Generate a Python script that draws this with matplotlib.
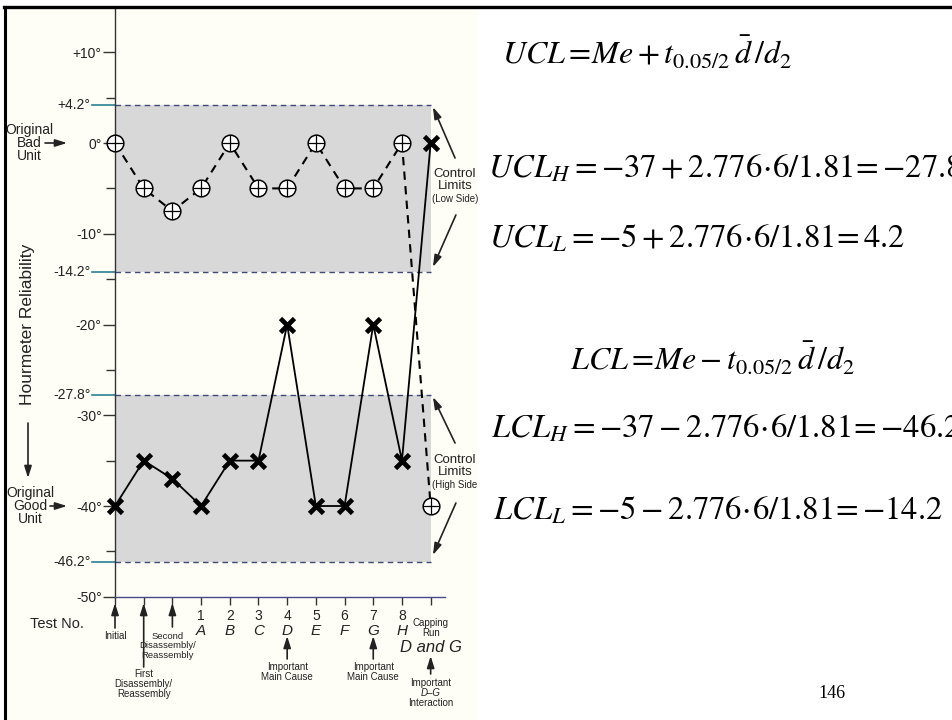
import matplotlib
matplotlib.use('Agg')
import matplotlib.pyplot as plt
from matplotlib import font_manager
from matplotlib.lines import Line2D
from matplotlib.patches import Rectangle
from matplotlib.transforms import blended_transform_factory

# Test sequence along the bottom axis (0 = initial run, 11 = capping run)
positions = list(range(12))
test_numbers = ['', '', '', '1', '2', '3', '4', '5', '6', '7', '8', '']
test_factors = ['', '', '', 'A', 'B', 'C', 'D', 'E', 'F', 'G', 'H', '']

# Hourmeter readings in degrees
low_side = [0, -5, -7.5, -5, 0, -5, -5, 0, -5, -5, 0, -40]       # originally bad unit
high_side = [-40, -35, -37, -40, -35, -35, -20, -40, -40, -20, -35, 0]  # originally good unit

# Control limits (upper, lower) for each side
low_limits = (4.2, -14.2)
high_limits = (-27.8, -46.2)
limit_labels = ['+4.2°', '-14.2°', '-27.8°', '-46.2°']

y_ticks = [10, 0, -10, -20, -30, -40, -50]
y_tick_labels = ['+10°', '0°', '-10°', '-20°', '-30°', '-40°', '-50°']
y_minor = [5, -5, -15, -25, -35, -45]

names = {f.name for f in font_manager.fontManager.ttflist}
sans = 'Liberation Sans'
narrow = 'Liberation Sans Narrow' if 'Liberation Sans Narrow' in names else sans
plt.rcParams['font.family'] = [sans, 'DejaVu Sans']
plt.rcParams['mathtext.fontset'] = 'stix'

W, H = 952, 720


def fx(px):
    return px / W


def fy(py):
    return 1 - py / H


fig = plt.figure(figsize=(W / 100, H / 100), dpi=100)
fig.patch.set_facecolor('white')

# scanned page area and slide frame
fig.add_artist(Rectangle((fx(5), 0), fx(477) - fx(5), fy(8), transform=fig.transFigure,
                         facecolor='#fffef6', edgecolor='none', zorder=-10))
fig.add_artist(Line2D([fx(5), fx(5)], [0, fy(7)], color='black', lw=2.2))
fig.add_artist(Line2D([fx(4), 1], [fy(7), fy(7)], color='black', lw=2.4))

ax = fig.add_axes([fx(115), fy(596.75), 330 / W, (596.75 - 8) / H])
ax.set_facecolor('none')
ax.set_xlim(0, 11.5)
ax.set_ylim(-50, 14.88)
for side in ('top', 'right'):
    ax.spines[side].set_visible(False)
ax.spines['left'].set_color('#333333')
ax.spines['left'].set_linewidth(1.0)
ax.spines['bottom'].set_color('#4a4a8a')
ax.spines['bottom'].set_linewidth(1.0)

ax.set_yticks(y_ticks)
ax.set_yticklabels(y_tick_labels)
ax.set_yticks(y_minor, minor=True)
ax.tick_params(axis='y', which='major', direction='out', length=8.6, width=1.0,
               color='#333333', pad=1, labelsize=10, labelcolor='#222222')
ax.tick_params(axis='y', which='minor', direction='out', length=6.5, width=1.0, color='#333333')
ax.set_xticks(positions)
ax.set_xticklabels([])
ax.tick_params(axis='x', direction='out', length=5.5, width=1.0, color='#333333')

# control limit bands
for top, bottom in (low_limits, high_limits):
    ax.fill_between([0, 11], [top, top], [bottom, bottom], color='#d8d8d8', lw=0, zorder=0)

for value, label in zip(low_limits + high_limits, limit_labels):
    ax.plot([0, 11], [value, value], color='#3d4a7a', lw=1.0, dashes=(4, 3), zorder=1)
    ax.plot([-0.8, 0], [value, value], color='#2a7f95', lw=1.2, clip_on=False, zorder=1)
    ax.text(-0.86, value, label, ha='right', va='center', fontsize=10, color='#222222')

# low-side readings: dashed line with crossed circles
ax.plot(positions, low_side, color='black', lw=1.5, dashes=(4, 3), zorder=3, clip_on=False)
ax.plot(positions, low_side, ls='none', marker='o', ms=12, mfc='white', mec='black',
        mew=1.1, zorder=4, clip_on=False)
ax.plot(positions, low_side, ls='none', marker='+', ms=12, mec='black', mew=0.9,
        zorder=5, clip_on=False)

# high-side readings: solid line with bold crosses
ax.plot(positions, high_side, color='black', lw=1.3, zorder=3, clip_on=False)
ax.plot(positions, high_side, ls='none', marker='x', ms=9.5, mec='black', mew=3.4,
        zorder=5, clip_on=False)

arrow = dict(arrowstyle='-|>,head_length=0.7,head_width=0.22', color='#222222', lw=1.2,
             shrinkA=0, shrinkB=0)

# control limit callouts on the right of the bands
for (ty, tail_top, head_top, tail_bot, head_bot, side_text) in (
        (-4.1, -1.65, 3.97, -7.93, -13.66, '(Low Side)'),
        (-35.6, -33.06, -27.99, -39.67, -45.4, '(High Side')):
    ax.text(11.85, ty, 'Control\nLimits', ha='center', va='center', fontsize=9.5,
            family=narrow, color='#222222', linespacing=1.0)
    ax.text(11.85, ty - 2.1, side_text, ha='center', va='center', fontsize=7,
            family=narrow, color='#222222')
    ax.annotate('', xy=(11.08, head_top), xytext=(11.85, tail_top), arrowprops=arrow,
                annotation_clip=False)
    ax.annotate('', xy=(11.08, head_bot), xytext=(11.88, tail_bot), arrowprops=arrow,
                annotation_clip=False)

# left-hand labels
fig.text(fx(29), fy(143), 'Original\nBad\nUnit', ha='center', va='center', fontsize=10,
         color='#222222', linespacing=0.95)
fig.text(fx(30), fy(506), 'Original\nGood\nUnit', ha='center', va='center', fontsize=10,
         color='#222222', linespacing=0.95)
for py, x0 in ((143, 45), (506, 50)):
    ax.annotate('', xy=(fx(67), fy(py)), xytext=(fx(x0), fy(py)), xycoords='figure fraction',
                textcoords='figure fraction', arrowprops=arrow)
fig.text(fx(28), fy(324), 'Hourmeter Reliability', rotation=90, ha='center', va='center',
         fontsize=12.5, color='#222222')
ax.annotate('', xy=(fx(28), fy(478)), xytext=(fx(28), fy(423)), xycoords='figure fraction',
            textcoords='figure fraction', arrowprops=arrow)

# test sequence labels under the axis
bt = blended_transform_factory(ax.transData, fig.transFigure)
fig.text(fx(30), fy(624), 'Test No.', ha='left', va='center', fontsize=10.5, color='#222222')
for pos, num, fac in zip(positions, test_numbers, test_factors):
    if num:
        ax.text(pos, fy(616), num, transform=bt, ha='center', va='center', fontsize=10,
                color='#222222')
        ax.text(pos, fy(631), fac, transform=bt, ha='center', va='center', fontsize=11,
                style='italic', color='#222222')

small = dict(ha='center', va='center', fontsize=7, family=narrow, color='#222222',
             linespacing=1.05)
ax.text(0, fy(636), 'Initial', transform=bt, **small)
ax.text(1, fy(684), 'First\nDisassembly/\nReassembly', transform=bt, **small)
ax.text(1.82, fy(646), 'Second\nDisassembly/\nReassembly', transform=bt,
        **dict(small, fontsize=6.8))
ax.text(6, fy(672), 'Important\nMain Cause', transform=bt, **small)
ax.text(9, fy(672), 'Important\nMain Cause', transform=bt, **small)
ax.text(11, fy(628), 'Capping\nRun', transform=bt, **small)
ax.text(11, fy(648), 'D and G', transform=bt, ha='center', va='center', fontsize=12,
        style='italic', color='#222222')
ax.text(11, fy(683), 'Important', transform=bt, **small)
ax.text(11, fy(693), 'D–G', transform=bt, style='italic', **small)
ax.text(11, fy(703), 'Interaction', transform=bt, **small)

for pos, head, tail in ((0, 603, 628), (1, 603, 667), (2, 603, 627), (6, 636, 659),
                        (9, 636, 659), (11, 656, 674)):
    ax.annotate('', xy=(pos, fy(head)), xytext=(pos, fy(tail)), xycoords=bt, textcoords=bt,
                arrowprops=arrow)

# control limit formulas
eq = dict(fontsize=23, va='baseline', ha='left', color='black')
num_eq = dict(eq, fontsize=23.5)
fig.text(fx(502), fy(65), r'$UCL =\! Me + t_{0.05/2}\,\bar{d}\,/d_2$', **eq)
fig.text(fx(488), fy(177),
         r'$UCL_H = {-37} + 2.776\!\cdot\!6/1.81 \!={-27.8}$', **num_eq)
fig.text(fx(489), fy(247),
         r'$UCL_L = {-5} + 2.776\!\cdot\!6/1.81 \!={4.2}$', **num_eq)
fig.text(fx(570), fy(371), r'$LCL =\! Me - t_{0.05/2}\,\bar{d}\,/d_2$', **eq)
fig.text(fx(491), fy(438),
         r'$LCL_H = {-37} - 2.776\!\cdot\!6/1.81 \!={-46.2}$', **num_eq)
fig.text(fx(493), fy(520),
         r'$LCL_L = {-5} - 2.776\!\cdot\!6/1.81 \!={-14.2}$', **num_eq)
fig.text(fx(832), fy(694), '146', ha='center', va='center', fontsize=13,
         family='Liberation Serif', color='black')

fig.savefig('out.png', dpi=100)
